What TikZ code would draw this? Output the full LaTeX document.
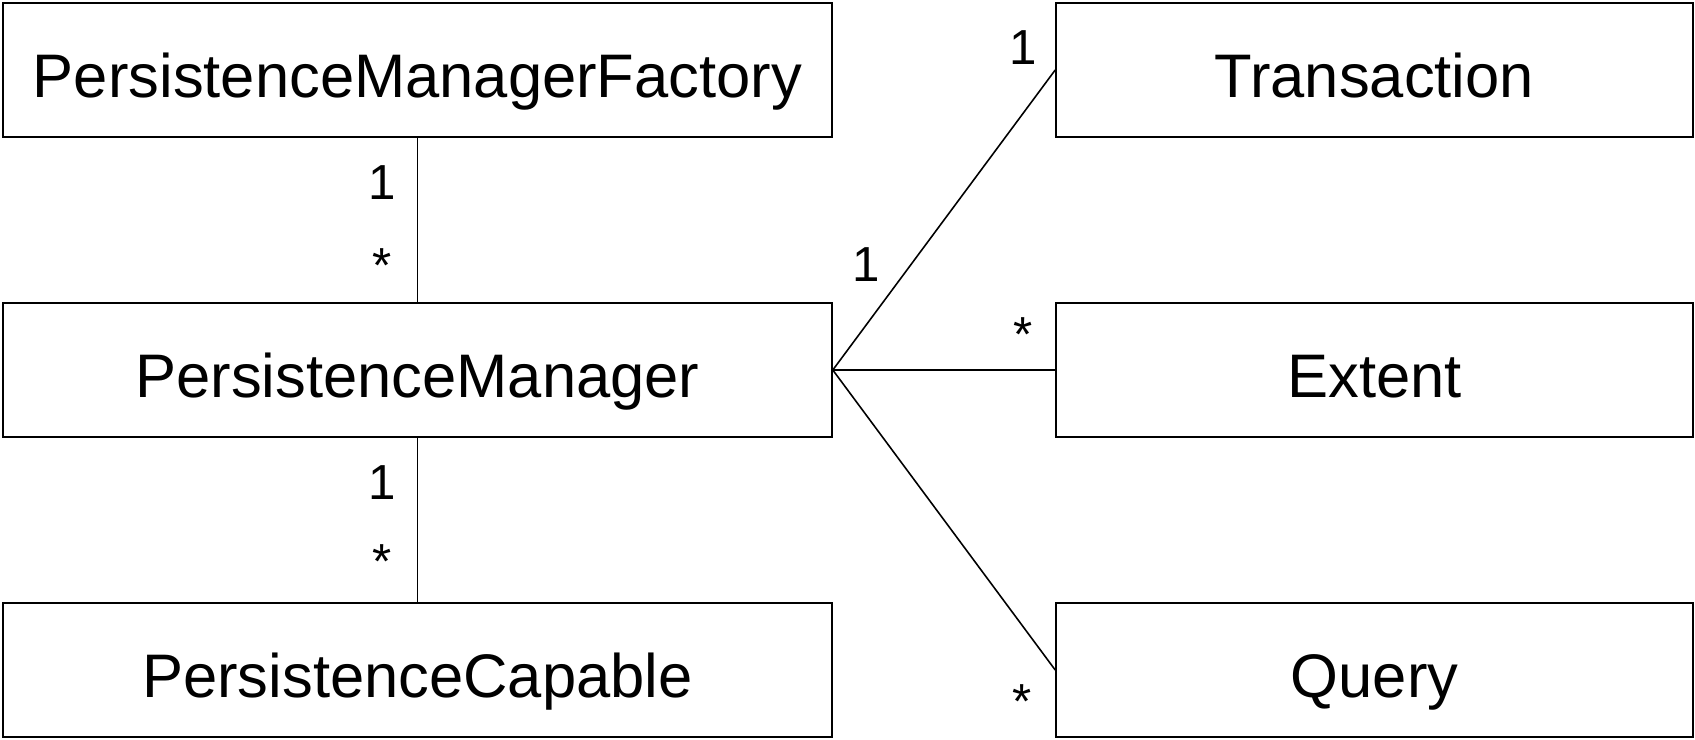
\documentclass[tikz,border=0pt]{standalone}
\usepackage{fontspec}
\setmainfont{Liberation Sans}
\begin{document}
\begin{tikzpicture}[
    line width=0.45pt,
    box/.style={rectangle, draw, inner sep=0pt, minimum height=1.34cm, text height=15.4pt, text depth=0pt, font=\fontsize{17.5}{20}\selectfont},
    leftbox/.style={box, minimum width=8.29cm},
    rightbox/.style={box, minimum width=6.37cm},
    mult/.style={anchor=base, inner sep=0pt, font=\fontsize{14}{16}\selectfont},
    assoc/.style={-}
]
\useasboundingbox (0,0) rectangle (16.95,7.39);

% Left column
\node[leftbox] (pmf) at (4.175, 6.69) {PersistenceManagerFactory};
\node[leftbox] (pm) at (4.175, 3.69) {PersistenceManager};
\node[leftbox] (pc) at (4.175, 0.69) {PersistenceCapable};

% Right column
\node[rightbox] (tx) at (13.745, 6.69) {Transaction};
\node[rightbox] (extent) at (13.745, 3.69) {Extent};
\node[rightbox] (query) at (13.745, 0.69) {Query};

% Associations
\draw[assoc] (pmf) -- (pm);
\draw[assoc] (pm) -- (pc);
\draw[assoc] (pm.east) -- (tx.west);
\draw[assoc] (pm.east) -- (extent.west);
\draw[assoc] (pm.east) -- (query.west);

% Multiplicities
\node[mult] (m1) at (3.82, 5.39) {1};
\node[mult] (m2) at (3.82, 4.56) {*};
\node[mult] (m3) at (3.82, 2.39) {1};
\node[mult] (m4) at (3.82, 1.61) {*};
\node[mult] (m5) at (10.23, 6.74) {1};
\node[mult] (m6) at (8.66, 4.57) {1};
\node[mult] (m7) at (10.23, 3.87) {*};
\node[mult] (m8) at (10.22, 0.21) {*};

\end{tikzpicture}
\end{document}
